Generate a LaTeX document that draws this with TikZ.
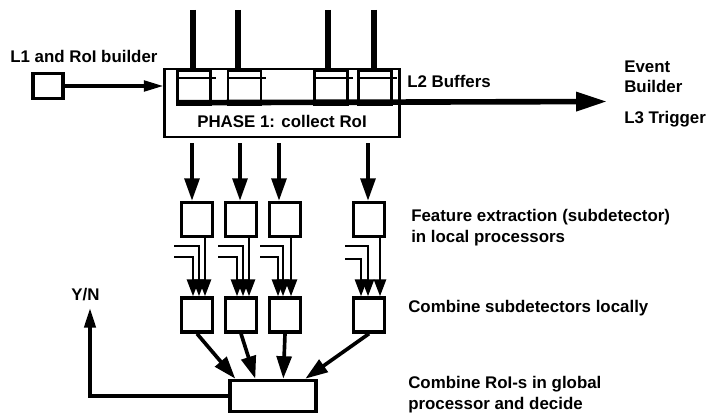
\documentclass[tikz,border=0pt]{standalone}
\usepackage{fontspec}
\setmainfont{Liberation Sans}
\usetikzlibrary{arrows.meta,calc}

\tikzset{
  lbl/.style={font=\fontsize{12}{14.5}\selectfont\bfseries, inner sep=0pt, anchor=west, align=left},
  proc/.style={draw, line width=2.4pt, minimum width=0.775cm, minimum height=0.85cm, inner sep=0pt},
  buf/.style={draw, line width=1.7pt, minimum width=0.825cm, minimum height=0.9cm, inner sep=0pt},
  arr/.style={-{Triangle[length=16pt,width=10.5pt]}, line width=2.6pt},
  arrs/.style={-{Triangle[length=12pt,width=8.5pt]}, line width=1.9pt},
  feed/.style={line width=3.8pt},
}

\begin{document}
\begin{tikzpicture}[x=0.025cm, y=-0.025cm]
  \useasboundingbox (0,0) rectangle (707,414);
  % L1 and RoI builder
  \node[lbl] (l1txt) at (10,56) {L1 and RoI builder};
  \node[proc, minimum width=0.75cm, minimum height=0.63cm] (l1) at (48,86) {};
  % Phase 1
  \node[draw, line width=2.1pt, minimum width=5.85cm, minimum height=1.7cm] (phase) at (282,103) {};
  \node[lbl, anchor=center] (phtxt) at (282,121) {PHASE 1: collect RoI};
  \draw[-{Triangle[length=14pt,width=7.5pt]}, line width=2.5pt] (l1.east) -- (l1.east -| phase.west);
  % L2 buffers
  \node[buf] (b1) at (194,87) {};
  \node[buf] (b2) at (244.5,87) {};
  \node[buf] (b3) at (331,87) {};
  \node[buf] (b4) at (375,87) {};
  \draw[line width=1.7pt] ($(b1.north west)+(0,3.5)$) -- ($(b1.north east)+(0,3.5)$);
  \draw[line width=1.7pt] ($(b1.north west)+(0,10)$) -- ($(b1.north east)+(4,10)$);
  \draw[line width=1.7pt] ($(b2.north west)+(0,3.5)$) -- ($(b2.north east)+(0,3.5)$);
  \draw[line width=1.7pt] ($(b2.north west)+(0,10)$) -- ($(b2.north east)+(4,10)$);
  \draw[line width=1.7pt] ($(b3.north west)+(0,3.5)$) -- ($(b3.north east)+(0,3.5)$);
  \draw[line width=1.7pt] ($(b3.north west)+(0,10)$) -- ($(b3.north east)+(4,10)$);
  \draw[line width=1.7pt] ($(b4.north west)+(0,3.5)$) -- ($(b4.north east)+(0,3.5)$);
  \draw[line width=1.7pt] ($(b4.north west)+(0,10)$) -- ($(b4.north east)+(4,10)$);
  % Detector inputs
  \draw[feed] ($(b1.north)+(-1,-58)$) -- ($(b1.north)+(-1,0)$);
  \draw[feed] ($(b2.north)+(-6.5,-58)$) -- ($(b2.north)+(-6.5,0)$);
  \draw[feed] ($(b3.north)+(-3,-58)$) -- ($(b3.north)+(-3,0)$);
  \draw[feed] ($(b4.north)+(-1,-58)$) -- ($(b4.north)+(-1,0)$);
  % Event builder / L3
  \node[lbl] (l2txt) at (407,81) {L2 Buffers};
  \node[lbl] (evb) at (624,77) {Event\\Builder};
  \node[lbl] (l3) at (624,119) {L3 Trigger};
  \coordinate (busend) at (607,101.5);
  \draw[-{Triangle[length=22pt,width=13pt]}, line width=4pt] ($(b1.south west)+(0,-3.5)$) -- (busend);
  % Feature extraction
  \node[proc] (f1) at (197,219.5) {};
  \node[proc] (f2) at (241,219.5) {};
  \node[proc] (f3) at (285,219.5) {};
  \node[proc] (f4) at (369,219.5) {};
  \coordinate (d1) at (192,143);
  \coordinate (d2) at (240,143);
  \coordinate (d3) at (279,143);
  \coordinate (d4) at (368,143);
  \draw[arr] (d1) -- (d1 |- f1.north);
  \draw[arr] (d2) -- (d2 |- f2.north);
  \draw[arr] (d3) -- (d3 |- f3.north);
  \draw[arr] (d4) -- (d4 |- f4.north);
  \node[lbl] (feat) at (411,227.5) {Feature extraction (subdetector)\\in local processors};
  % Combine subdetectors
  \node[proc] (c1) at (197,315) {};
  \node[proc] (c2) at (241,315) {};
  \node[proc] (c3) at (285,315) {};
  \node[proc] (c4) at (369,315) {};
  \draw[arrs] ($(f1.south)+(8,0)$) -- ($(c1.north)+(8,0)$);
  \draw[arrs] ($(f2.south)+(8,0)$) -- ($(c2.north)+(8,0)$);
  \draw[arrs] ($(f3.south)+(6,0)$) -- ($(c3.north)+(6,0)$);
  \draw[arrs] ($(f4.south)+(11,0)$) -- ($(c4.north)+(11,0)$);
  \coordinate (s1a) at (174,246);
  \coordinate (s1b) at (174,257);
  \coordinate (s2a) at (218,246);
  \coordinate (s2b) at (218,257);
  \coordinate (s3a) at (260,246);
  \coordinate (s3b) at (260,257);
  \coordinate (s4a) at (345,246);
  \coordinate (s4b) at (345,259);
  \draw[arrs] (s1a) -| ($(c1.north)+(2,0)$);
  \draw[arrs] (s1b) -| ($(c1.north)+(-4,0)$);
  \draw[arrs] (s2a) -| ($(c2.north)+(2,0)$);
  \draw[arrs] (s2b) -| ($(c2.north)+(-4,0)$);
  \draw[arrs] (s3a) -| ($(c3.north)+(-2,0)$);
  \draw[arrs] (s3b) -| ($(c3.north)+(-7,0)$);
  \draw[arrs] (s4a) -| ($(c4.north)+(-1,0)$);
  \draw[arrs] (s4b) -| ($(c4.north)+(-8,0)$);
  \node[lbl] (comb) at (408,308) {Combine subdetectors locally};
  % Global decision
  \node[proc, minimum width=2.15cm, minimum height=0.78cm] (glob) at (273,396) {};
  \draw[arr] (c1.south) -- ($(glob.north west)+(7,0)$);
  \draw[arr] (c2.south) -- ($(glob.north west)+(27,0)$);
  \draw[arr] (c3.south) -- ($(glob.north west)+(55,0)$);
  \draw[arr] (c4.south) -- ($(glob.north west)+(77,0)$);
  \node[lbl] (globtxt) at (408,394.5) {Combine RoI-s in global\\processor and decide};
  \node[lbl, anchor=center] (yn) at (85.5,295) {Y/N};
  \coordinate (ynend) at (90,308);
  \draw[-{Triangle[length=14pt,width=8pt]}, line width=2.6pt] (glob.west) -| (ynend);
\end{tikzpicture}
\end{document}
